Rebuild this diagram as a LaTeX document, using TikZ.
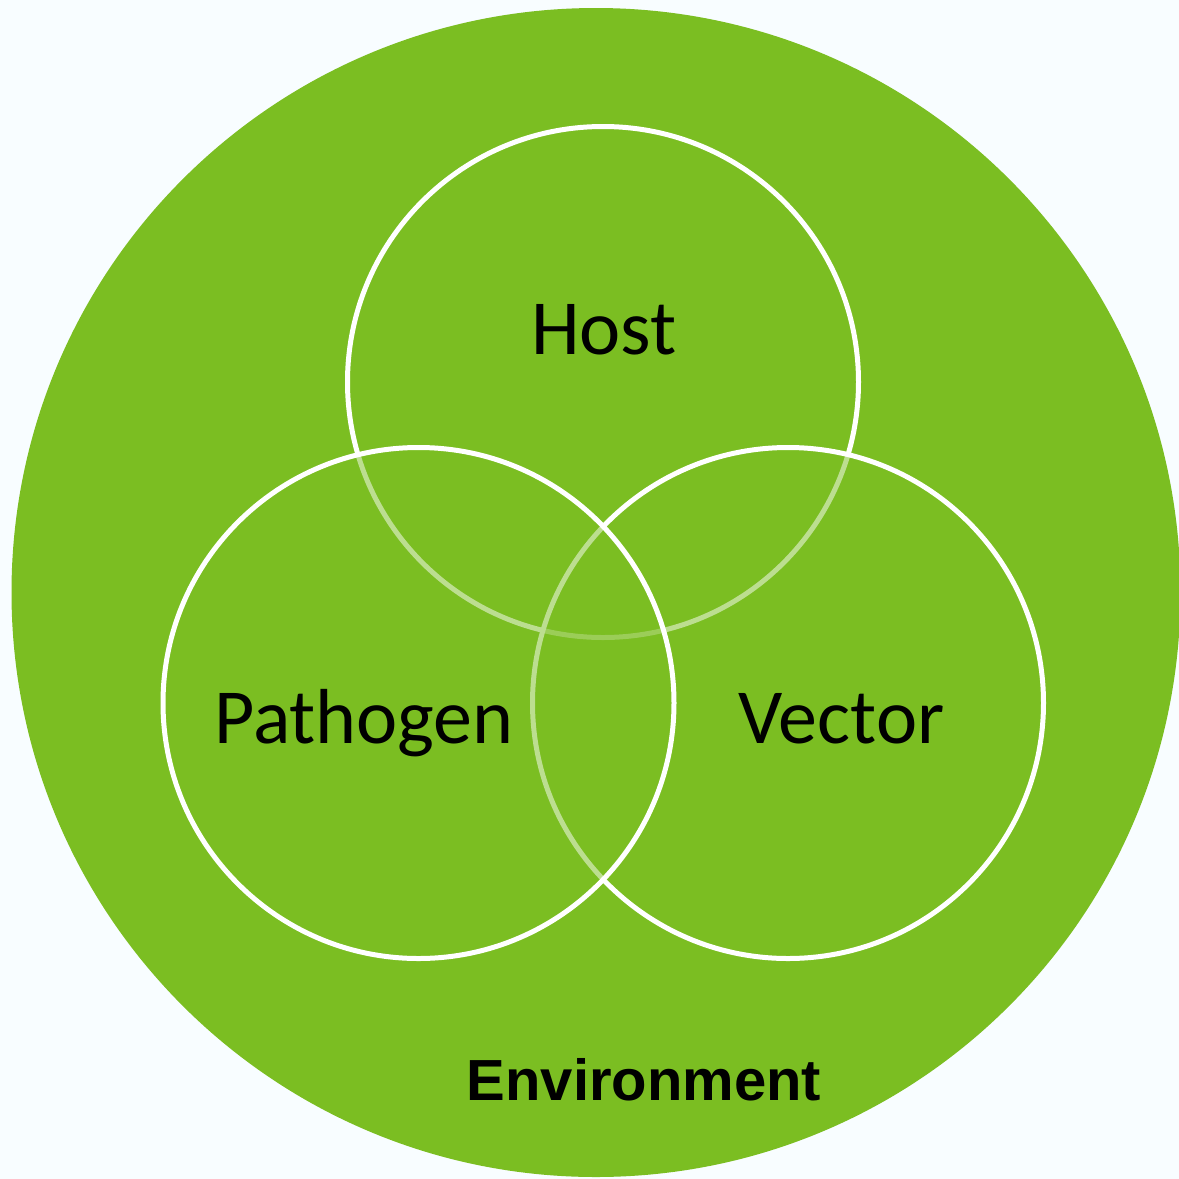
\documentclass[tikz,border=0pt]{standalone}
\usepackage{fontspec}
\newfontfamily\labelfont{Carlito}
\newfontfamily\envfont{Liberation Sans}
\definecolor{leaf}{RGB}{123,190,34}
\definecolor{paper}{RGB}{248,253,255}
\tikzset{
  ring/.style={circle, inner sep=0pt, minimum size=511pt, draw=white,
    line width=5pt, fill=leaf, fill opacity=0.5},
  bigdisc/.style={circle, inner sep=0pt, minimum size=1169pt, fill=leaf},
  setlabel/.style={anchor=base, inner sep=0pt, text=black,
    font=\labelfont\fontsize{78}{90}\selectfont},
  envlabel/.style={anchor=base, inner sep=0pt, text=black,
    font=\envfont\bfseries\fontsize{58}{68}\selectfont}
}
\begin{document}
\begin{tikzpicture}[x=1pt,y=-1pt]
  % page area and background
  \useasboundingbox (0,0) rectangle (1179,1179);
  \fill[paper] (0,0) rectangle (1179,1179);
  \clip (0,0) rectangle (1179,1179);

  % environment disc
  \node[bigdisc] (env) at (596,592.5) {};

  % the three overlapping sets, stacked host, vector, pathogen
  \node[ring] (host) at (603,382) {};
  \node[ring] (vector) at (788,703) {};
  \node[ring] (pathogen) at (418.5,703) {};

  % labels
  \node[setlabel] (hostlabel) at (604,354) {Host};
  \node[setlabel] (pathogenlabel) at (364,743) {Pathogen};
  \node[setlabel] (vectorlabel) at (841.5,743) {Vector};
  \node[envlabel] (envlabel) at (644,1100) {Environment};
\end{tikzpicture}
\end{document}
